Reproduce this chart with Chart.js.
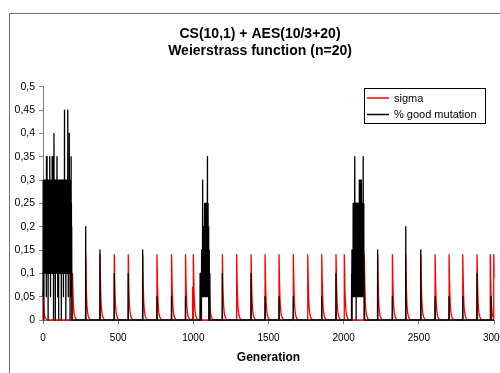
<!DOCTYPE html>
<html>
<head>
<meta charset="utf-8">
<script src="https://cdn.jsdelivr.net/npm/chart.js@4.4.0/dist/chart.umd.min.js"></script>
<style>
  html, body { margin: 0; padding: 0; background: #fff; overflow: hidden; }
  #wrap { width: 520px; height: 400px; }
</style>
</head>
<body>
<div id="wrap"><canvas id="myChart" width="520" height="400"></canvas></div>
<script>
const titleLines = ['CS(10,1) + AES(10/3+20)', 'Weierstrass function (n=20)'];
const xTitle = 'Generation';
const seriesNames = ['sigma', '% good mutation'];
const xTicks = [0, 500, 1000, 1500, 2000, 2500, 3000];
const yTicks = [0, 0.05, 0.1, 0.15, 0.2, 0.25, 0.3, 0.35, 0.4, 0.45, 0.5];

// sigma: generations where it is reset, peak reached, and how it dies away after
const sigmaResetGen = [0, 196, 284, 379, 474, 567, 663, 758, 855, 948, 995, 1000, 1104,
  1193, 1288, 1384, 1477, 1570, 1665, 1761, 1854, 1949, 2004, 2137, 2226, 2324, 2413,
  2513, 2608, 2701, 2792, 2887, 2975, 2998];
const sigmaResetPeak = [0.06, 0.1, 0.14, 0.14, 0.14, 0.14, 0.14, 0.14, 0.14, 0.14, 0.07, 0.14, 0.1,
  0.14, 0.14, 0.14, 0.14, 0.14, 0.14, 0.14, 0.14, 0.14, 0.14, 0.14, 0.14, 0.14, 0.14,
  0.14, 0.14, 0.14, 0.14, 0.14, 0.14, 0.14];
const sigmaDecayOffset = [0, 1, 3, 5, 7, 9, 12, 15, 19, 24, 30];
const sigmaDecayShare = [1, 0.93, 0.64, 0.43, 0.3, 0.2, 0.13, 0.08, 0.045, 0.02, 0];

// % good mutation: single spikes
const goodSpikeGen = [284, 379, 474, 567, 663, 758, 855, 948, 1193, 1384, 1477, 1570, 1665,
  1854, 1949, 2226, 2324, 2413, 2513, 2608, 2701, 2792, 2887, 2980];
const goodSpikeVal = [0.2, 0.15, 0.1, 0.1, 0.15, 0.05, 0.05, 0.05, 0.1, 0.1, 0.05, 0.05, 0.05,
  0.05, 0.1, 0.15, 0.05, 0.2, 0.15, 0.05, 0.05, 0.05, 0.1, 0.05];

// % good mutation: busy phases, one value per generation
const burstStep = 1;
const burst1Start = 0;
const burst1 = [
  0.05, 0.3, 0.1, 0.3, 0.15, 0.25, 0, 0.3, 0.1, 0.3,
  0.15, 0.3, 0.1, 0.25, 0.1, 0.3, 0.1, 0.3, 0.15, 0.25,
  0.1, 0.3, 0.05, 0.35, 0.1, 0.3, 0.15, 0.35, 0.1, 0.3,
  0.1, 0.25, 0.1, 0.3, 0, 0.25, 0.1, 0.3, 0.15, 0.3,
  0.1, 0.25, 0.1, 0.3, 0.1, 0.35, 0.15, 0.3, 0.1, 0.25,
  0.05, 0.3, 0.1, 0.3, 0.15, 0.25, 0.1, 0.3, 0.1, 0.3,
  0.1, 0.35, 0.15, 0.3, 0.1, 0.25, 0.1, 0.35, 0.1, 0.3,
  0, 0.3, 0.1, 0.4, 0.15, 0.3, 0.1, 0.25, 0.1, 0.3,
  0.1, 0.3, 0, 0.25, 0.1, 0.3, 0.15, 0.3, 0.1, 0.25,
  0.1, 0.3, 0.1, 0.35, 0.15, 0.3, 0.1, 0.3, 0.05, 0.25,
  0.1, 0.3, 0.15, 0.3, 0, 0.25, 0.1, 0.3, 0.1, 0.3,
  0.1, 0.25, 0.1, 0.3, 0.15, 0.3, 0.1, 0.25, 0.1, 0.3,
  0.1, 0.3, 0, 0.25, 0.1, 0.3, 0.15, 0.3, 0.1, 0.25,
  0.1, 0.3, 0.15, 0.3, 0.1, 0.25, 0.05, 0.3, 0.1, 0.3,
  0.15, 0.3, 0.1, 0.45, 0.1, 0.3, 0.1, 0.25, 0.15, 0.3,
  0.1, 0.3, 0, 0.25, 0.1, 0.3, 0.15, 0.3, 0.1, 0.25,
  0.1, 0.3, 0.1, 0.3, 0.15, 0.45, 0.1, 0.3, 0.05, 0.25,
  0.1, 0.3, 0.15, 0.3, 0.1, 0.4, 0.1, 0.3, 0.1, 0.3,
  0, 0.25, 0.1, 0.2, 0.15, 0.3, 0.05, 0.35, 0.1, 0.25,
  0.1, 0.2, 0];
const burst2Start = 1044;
const burst2 = [
  0, 0.1, 0.05, 0.1, 0, 0.1, 0.05, 0.1, 0.05, 0.1,
  0, 0.15, 0.05, 0.1, 0.05, 0.15, 0.1, 0.15, 0.3, 0.05,
  0.1, 0.15, 0.05, 0.2, 0.1, 0.15, 0.05, 0.2, 0.1, 0.2,
  0.05, 0.25, 0.1, 0.2, 0.05, 0.25, 0.1, 0.25, 0.05, 0.2,
  0.1, 0.25, 0.05, 0.25, 0.1, 0.25, 0.05, 0.25, 0.1, 0.25,
  0.35, 0.05, 0.25, 0.1, 0.25, 0.05, 0.2, 0.1, 0.2, 0,
  0.15, 0.05, 0.15, 0, 0.1, 0.05, 0.1, 0, 0, 0];
const burst3Start = 2052;
const burst3 = [
  0, 0.1, 0.05, 0.15, 0, 0.1, 0.05, 0.15, 0.1, 0.15,
  0.05, 0.25, 0.1, 0.25, 0.05, 0.25, 0.1, 0.25, 0.05, 0.25,
  0.1, 0.25, 0.35, 0.05, 0.25, 0.1, 0.25, 0.05, 0.25, 0.1,
  0.25, 0, 0.25, 0.1, 0.25, 0.05, 0.25, 0.1, 0.25, 0.05,
  0.25, 0.1, 0.25, 0.05, 0.25, 0.1, 0.25, 0.05, 0.25, 0.1,
  0.25, 0.05, 0.3, 0.1, 0.25, 0.05, 0.3, 0.1, 0.3, 0.05,
  0.3, 0.1, 0.25, 0.05, 0.3, 0.1, 0.3, 0.05, 0.25, 0.1,
  0.25, 0.05, 0.25, 0.1, 0.25, 0.05, 0.25, 0.1, 0.35, 0.05,
  0.25, 0.1, 0.25, 0.05, 0.1, 0, 0.05, 0, 0, 0,
  0, 0];

function buildSigma() {
  const pts = [];
  sigmaResetGen.forEach((g, i) => {
    const next = i + 1 < sigmaResetGen.length ? sigmaResetGen[i + 1] : Infinity;
    pts.push({x: g, y: 0});
    sigmaDecayOffset.forEach((off, k) => {
      if (g + off < next) pts.push({x: g + off, y: sigmaResetPeak[i] * sigmaDecayShare[k]});
    });
  });
  return pts;
}

function buildGood() {
  const pts = [];
  [[burst1Start, burst1], [burst2Start, burst2], [burst3Start, burst3]].forEach(([start, vals]) => {
    vals.forEach((v, k) => pts.push({x: start + k * burstStep, y: v}));
  });
  goodSpikeGen.forEach((g, i) => {
    pts.push({x: g - 1, y: 0}, {x: g, y: goodSpikeVal[i]}, {x: g + 1, y: 0});
  });
  pts.push({x: 3000, y: 0});
  pts.sort((a, b) => a.x - b.x);
  return pts;
}

const fontFamily = '"Liberation Sans", Arial, sans-serif';
Chart.defaults.font.family = fontFamily;
Chart.defaults.color = '#000';

// grey frame around the whole chart, white background
const framePlugin = {
  id: 'frame',
  beforeDraw(chart) {
    const ctx = chart.ctx;
    ctx.save();
    ctx.fillStyle = '#fff';
    ctx.fillRect(0, 0, chart.width, chart.height);
    ctx.strokeStyle = '#707070';
    ctx.lineWidth = 1;
    ctx.strokeRect(9.5, 13.5, 700, 700);
    ctx.restore();
  }
};

// legend box inside the plot, top right
const legendBoxPlugin = {
  id: 'legendBox',
  afterDraw(chart) {
    const ctx = chart.ctx;
    const colors = ['#ff0000', '#000000'];
    ctx.save();
    ctx.fillStyle = '#fff';
    ctx.fillRect(364.5, 88.5, 121, 35);
    ctx.strokeStyle = '#000';
    ctx.lineWidth = 1;
    ctx.strokeRect(364.5, 88.5, 121, 35);
    ctx.font = '11px ' + fontFamily;
    ctx.textBaseline = 'middle';
    ctx.textAlign = 'left';
    seriesNames.forEach((name, i) => {
      const y = 98 + i * 16.5;
      ctx.strokeStyle = colors[i];
      ctx.lineWidth = 1.5;
      ctx.beginPath();
      ctx.moveTo(367, y);
      ctx.lineTo(389, y);
      ctx.stroke();
      ctx.fillStyle = '#000';
      ctx.fillText(name, 394, y + 0.5);
    });
    ctx.restore();
  }
};

const ctx = document.getElementById('myChart').getContext('2d');
new Chart(ctx, {
  type: 'line',
  data: {
    datasets: [
      {
        label: seriesNames[0],
        data: buildSigma(),
        borderColor: '#ff0000',
        borderWidth: 1.3,
        pointRadius: 0,
        tension: 0.000001,
        borderJoinStyle: 'round',
        clip: {left: 3, top: 3, right: 1, bottom: 3},
        order: 2
      },
      {
        label: seriesNames[1],
        data: buildGood(),
        borderColor: '#000000',
        borderWidth: 1.3,
        pointRadius: 0,
        tension: 0.000001,
        borderJoinStyle: 'round',
        clip: {left: 3, top: 3, right: 1, bottom: 3},
        order: 1
      }
    ]
  },
  options: {
    responsive: false,
    animation: false,
    events: [],
    layout: { padding: 0 },
    plugins: {
      legend: { display: false },
      tooltip: { enabled: false },
      title: {
        display: true,
        text: titleLines,
        color: '#000',
        font: { size: 14, weight: 'bold', lineHeight: 1.24 },
        padding: { top: 25, bottom: 27 }
      }
    },
    scales: {
      x: {
        type: 'linear',
        min: 0,
        max: 3000,
        afterBuildTicks: s => { s.ticks = xTicks.map(v => ({value: v})); },
        afterFit: s => { s.height = 80; s.paddingRight = 26; },
        grid: { drawOnChartArea: false, drawTicks: true, tickLength: 4, color: '#808080' },
        border: { display: true, color: '#808080', width: 1 },
        ticks: { font: { size: 10 }, padding: 8, maxRotation: 0, color: '#000', callback: v => String(v) },
        title: {
          display: true,
          text: xTitle,
          color: '#000',
          font: { size: 12, weight: 'bold', lineHeight: 1.2 },
          padding: { top: 0, bottom: 35 }
        }
      },
      y: {
        min: 0,
        max: 0.5,
        afterBuildTicks: s => { s.ticks = yTicks.map(v => ({value: v})); },
        afterFit: s => { s.width = 43; s.paddingTop = 0; s.paddingBottom = 0; },
        grid: { drawOnChartArea: false, drawTicks: true, tickLength: 4, color: '#808080' },
        border: { display: true, color: '#808080', width: 1 },
        ticks: {
          font: { size: 10.5 },
          padding: 4,
          color: '#000',
          callback: v => String(v).replace('.', ',')
        }
      }
    }
  },
  plugins: [framePlugin, legendBoxPlugin]
});
</script>
</body>
</html>
